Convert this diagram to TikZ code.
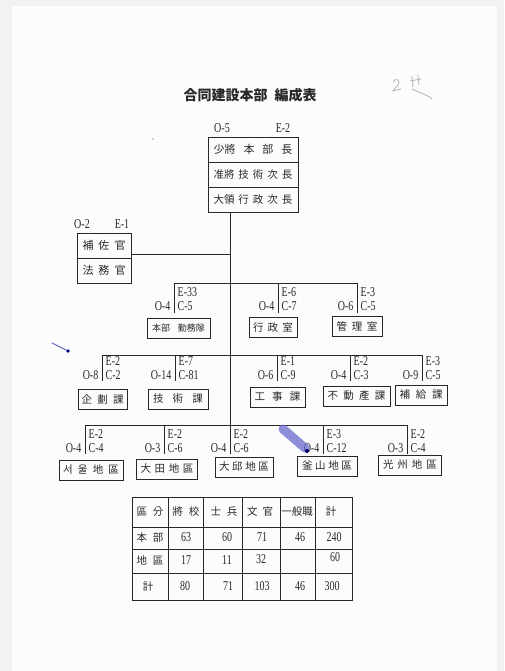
\documentclass[tikz,border=0pt]{standalone}
\usepackage{fontspec}
\newfontfamily\cjk{Noto Sans CJK KR}
\newfontfamily\lab[FakeStretch=0.74]{Liberation Serif}
\definecolor{inkc}{RGB}{40,40,40}
\definecolor{pagebg}{RGB}{244,241,245}
\definecolor{paper}{RGB}{252,252,252}
\definecolor{blueink}{RGB}{105,105,205}
\newcommand\grp[9]{%
 \coordinate (#1t) at (#2,#3);
 \coordinate (#1b) at (#2,#6);
 \node[lb,anchor=west] (#1E) at (#2+3.5,#4) {#8};
 \node[lb,anchor=west] (#1C) at (#2+3.5,#5) {#9};
 \node[lb,anchor=east] (#1O) at (#2-3.5,#5) {#7};
}
\begin{document}
\begin{tikzpicture}[x=1pt,y=-1pt,
  ln/.style={draw=inkc,line width=0.8pt},
  lb/.style={font=\lab\fontsize{13.5}{13.5}\selectfont,inner sep=0pt,text=inkc},
  bx/.style={draw=inkc,line width=0.8pt,inner sep=0pt,minimum height=20pt,
    font=\cjk\fontsize{10.5}{10.5}\selectfont,text=inkc},
  tb/.style={draw=inkc,line width=0.9pt,inner sep=0pt,minimum width=90pt,minimum height=25pt,
    font=\cjk\fontsize{11}{11}\selectfont,text=inkc},
  tc/.style={font=\cjk\fontsize{10.5}{10.5}\selectfont,inner sep=0pt,text=inkc},
  tn/.style={font=\lab\fontsize{13.5}{13.5}\selectfont,inner sep=0pt,text=inkc}]
\fill[pagebg] (0,0) rectangle (504,671);
\fill[paper] (12,6) rectangle (497,671);
\useasboundingbox (0,0) rectangle (504,671);

% title
\node[font=\cjk\bfseries\fontsize{14}{14}\selectfont,text=inkc] (title) at (250,95) {合同建設本部\hspace{7pt}編成表};

% top box
\node[tb] (r1) at (253,149.5) {\makebox[79pt]{少將\hfill{}本\hfill{}部\hfill{}長}};
\node[tb,font=\cjk\fontsize{10.5}{10.5}\selectfont] (r2) at (253,174.5) {\makebox[79pt]{准將\hfill{}技\hfill{}術\hfill{}次\hfill{}長}};
\node[tb,font=\cjk\fontsize{10.5}{10.5}\selectfont] (r3) at (253,199.5) {\makebox[79pt]{大領\hfill{}行\hfill{}政\hfill{}次\hfill{}長}};
\node[lb] (o5) at (222,128) {O-5};
\node[lb] (e2) at (283,128) {E-2};

% main line
\coordinate (mx) at (230,0);
\coordinate (mbot) at (230,454);
\draw[ln] (r3.south -| mx) -- (mbot);

% staff box
\node[tb,minimum width=54pt,font=\cjk\fontsize{11}{11}\selectfont] (hosa) at (104,245.5) {\makebox[43pt]{補\hfill{}佐\hfill{}官}};
\node[tb,minimum width=54pt,font=\cjk\fontsize{11}{11}\selectfont] (homu) at (104,270.5) {\makebox[43pt]{法\hfill{}務\hfill{}官}};
\node[lb] (o2) at (82,224) {O-2};
\node[lb] (e1) at (122,224) {E-1};
\coordinate (hc1) at (131,254);
\coordinate (hc2) at (230,254);
\draw[ln] (hc1) -- (hc2);

% level 3
\grp{kin}{174}{283}{292}{306}{313}{O-4}{E-33}{C-5}
\grp{gyo}{278}{283}{292}{306}{313}{O-4}{E-6}{C-7}
\grp{kan}{357}{283}{292}{306}{313}{O-6}{E-3}{C-5}
\draw[ln] (kint) -- (kant);
\draw[ln] (kint) -- (kinb);
\draw[ln] (gyot) -- (gyob);
\draw[ln] (kant) -- (kanb);
\node[bx,minimum width=63pt,font=\cjk\fontsize{9}{9}\selectfont] (kinB) at (178.5,328) {\makebox[53pt]{本部\hfill{}勤務隊}};
\node[bx,minimum width=48pt] (gyoB) at (273,327.5) {\makebox[40pt]{行\hfill{}政\hfill{}室}};
\node[bx,minimum width=50pt] (kanB) at (357,326) {\makebox[41pt]{管\hfill{}理\hfill{}室}};

% level 4
\grp{kik}{102}{355}{361.5}{375.5}{381}{O-8}{E-2}{C-2}
\grp{gis}{175}{355}{361.5}{375.5}{381}{O-14}{E-7}{C-81}
\grp{koj}{277}{355}{361.5}{375.5}{381}{O-6}{E-1}{C-9}
\grp{fud}{350}{355}{361.5}{375.5}{381}{O-4}{E-2}{C-3}
\grp{hok}{422}{355}{361.5}{375.5}{381}{O-9}{E-3}{C-5}
\draw[ln] (kikt) -- (hokt);
\foreach \g in {kik,gis,koj,fud,hok}{\draw[ln] (\g t) -- (\g b);}
\node[bx,minimum width=49pt] (kikB) at (102.5,399.5) {\makebox[42pt]{企\hfill{}劃\hfill{}課}};
\node[bx,minimum width=60pt] (gisB) at (178,399) {\makebox[50pt]{技\hfill{}術\hfill{}課}};
\node[bx,minimum width=55pt] (kojB) at (277.5,397) {\makebox[46pt]{工\hfill{}事\hfill{}課}};
\node[bx,minimum width=67pt] (fudB) at (356.5,396) {\makebox[58pt]{不\hfill{}動\hfill{}產\hfill{}課}};
\node[bx,minimum width=52pt] (hokB) at (421,395) {\makebox[43pt]{補\hfill{}給\hfill{}課}};

% level 5
\grp{seo}{85}{425}{434.5}{448.5}{454}{O-4}{E-2}{C-4}
\grp{tae}{164}{425}{434.5}{448.5}{454}{O-3}{E-2}{C-6}
\grp{dae}{230}{425}{434.5}{448.5}{454}{O-4}{E-2}{C-6}
\grp{pus}{323}{425}{434.5}{448.5}{454}{O-4}{E-3}{C-12}
\grp{kwa}{407}{425}{434.5}{448.5}{454}{O-3}{E-2}{C-4}
\draw[ln] (seot) -- (kwat);
\foreach \g in {seo,tae,pus,kwa}{\draw[ln] (\g t) -- (\g b);}
\node[bx,minimum width=64pt] (seoB) at (91,470) {\makebox[56pt]{서\hfill{}울\hfill{}地\hfill{}區}};
\node[bx,minimum width=61pt] (taeB) at (167,469) {\makebox[53pt]{大\hfill{}田\hfill{}地\hfill{}區}};
\node[bx,minimum width=58pt] (daeB) at (244,467) {\makebox[50pt]{大\hfill{}邱\hfill{}地\hfill{}區}};
\node[bx,minimum width=60pt] (pusB) at (327,466) {\makebox[50pt]{釜\hfill{}山\hfill{}地\hfill{}區}};
\node[bx,minimum width=63pt] (kwaB) at (410,465) {\makebox[54pt]{光\hfill{}州\hfill{}地\hfill{}區}};

% table
\draw[draw=inkc,line width=0.8pt] (132,497) rectangle (352,600);
\foreach \yy in {527,549,573}{\draw[draw=inkc,line width=0.7pt] (132,\yy) -- (352,\yy);}
\foreach \xx in {168,203,242,280,315}{\draw[draw=inkc,line width=0.7pt] (\xx,497) -- (\xx,600);}
\node[tc] (h1) at (150,512) {\makebox[27pt]{區\hfill{}分}};
\node[tc] (h2) at (186,512) {\makebox[27pt]{將\hfill{}校}};
\node[tc] (h3) at (224,512) {\makebox[27pt]{士\hfill{}兵}};
\node[tc] (h4) at (260,512) {\makebox[26pt]{文\hfill{}官}};
\node[tc] (h5) at (297,512) {一般職};
\node[tc] (h6) at (331,512) {計};
\node[tc] (rA) at (150,538) {\makebox[27pt]{本\hfill{}部}};
\node[tc] (rB) at (150,561) {\makebox[27pt]{地\hfill{}區}};
\node[tc] (rC) at (148,587) {計};
\node[tn] (a1) at (186,537.5) {63};
\node[tn] (a2) at (227,537.5) {60};
\node[tn] (a3) at (262,537.5) {71};
\node[tn] (a4) at (300,537.5) {46};
\node[tn] (a5) at (334,537.5) {240};
\node[tn] (b1) at (186,560.5) {17};
\node[tn] (b2) at (227,560.5) {11};
\node[tn] (b3) at (261,559.5) {32};
\node[tn] (b5) at (335,557.5) {60};
\node[tn] (c1) at (185,586.5) {80};
\node[tn] (c2) at (228,586.5) {71};
\node[tn] (c3) at (262,586.5) {103};
\node[tn] (c4) at (300,586.5) {46};
\node[tn] (c5) at (332,586.5) {300};

% scan marks
\draw[gray!60,line width=0.8pt,line cap=round] (393,82) .. controls (396,77) and (401,80) .. (398,85) -- (393,91) -- (401,89);
\draw[gray!60,line width=0.8pt,line cap=round] (410,81) -- (421,79) (412,76) -- (413,87) (418,75) -- (419,85) (412,89) .. controls (420,93) and (426,94) .. (432,99);
\fill[gray!70] (153,139) circle (0.9pt);
\draw[blueink,opacity=0.75,line width=9pt,line cap=round] (283,429) -- (305,448);
\fill[blue!40!black] (307,451) circle (2pt);
\draw[blueink,line width=1pt,line cap=round] (52,343) -- (66,350);
\fill[blue!50!black] (68,351) circle (1.8pt);
\end{tikzpicture}
\end{document}
